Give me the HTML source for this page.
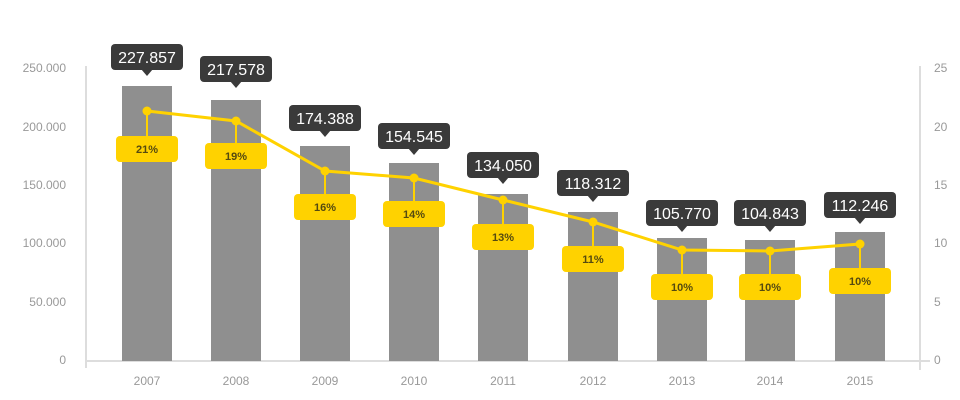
<!DOCTYPE html>
<html><head><meta charset="utf-8"><style>
html,body{margin:0;padding:0;background:#fff;width:960px;height:400px;overflow:hidden}
svg text{font-family:"Liberation Sans",sans-serif}
</style></head><body>
<svg width="960" height="400" xmlns="http://www.w3.org/2000/svg">
<line x1="86" y1="66" x2="86" y2="368" stroke="#ddd" stroke-width="2"/>
<line x1="920" y1="66" x2="920" y2="370" stroke="#ddd" stroke-width="2"/>
<line x1="86" y1="361" x2="930" y2="361" stroke="#ddd" stroke-width="2"/>
<g font-size="12" fill="#999" text-anchor="end">
<text x="66" y="72">250.000</text><text x="66" y="131">200.000</text><text x="66" y="189">150.000</text>
<text x="66" y="247">100.000</text><text x="66" y="306">50.000</text><text x="66" y="364">0</text>
</g>
<g font-size="12" fill="#999">
<text x="934" y="72">25</text><text x="934" y="131">20</text><text x="934" y="189">15</text>
<text x="934" y="247">10</text><text x="934" y="306">5</text><text x="934" y="364">0</text>
</g>
<g fill="#8f8f8f">
<rect x="122" y="86" width="50" height="275"/>
<rect x="211" y="100" width="50" height="261"/>
<rect x="300" y="146" width="50" height="215"/>
<rect x="389" y="163" width="50" height="198"/>
<rect x="478" y="194" width="50" height="167"/>
<rect x="568" y="212" width="50" height="149"/>
<rect x="657" y="238" width="50" height="123"/>
<rect x="745" y="240" width="50" height="121"/>
<rect x="835" y="232" width="50" height="129"/>
</g>
<g font-size="12" fill="#999" text-anchor="middle">
<text x="147" y="385">2007</text><text x="236" y="385">2008</text><text x="325" y="385">2009</text>
<text x="414" y="385">2010</text><text x="503" y="385">2011</text><text x="593" y="385">2012</text>
<text x="682" y="385">2013</text><text x="770" y="385">2014</text><text x="860" y="385">2015</text>
</g>
<polyline points="147,111 236,121 325,171 414,178 503,200 593,222 682,250 770,251 860,244" fill="none" stroke="#ffd200" stroke-width="3"/>
<g stroke="#ffd200" stroke-width="2">
<line x1="147" y1="111" x2="147" y2="149"/><line x1="236" y1="121" x2="236" y2="156"/>
<line x1="325" y1="171" x2="325" y2="207"/><line x1="414" y1="178" x2="414" y2="214"/>
<line x1="503" y1="200" x2="503" y2="237"/><line x1="593" y1="222" x2="593" y2="259"/>
<line x1="682" y1="250" x2="682" y2="287"/><line x1="770" y1="251" x2="770" y2="287"/>
<line x1="860" y1="244" x2="860" y2="281"/>
</g>
<g fill="#ffd200">
<circle cx="147" cy="111" r="4.5"/><circle cx="236" cy="121" r="4.5"/><circle cx="325" cy="171" r="4.5"/>
<circle cx="414" cy="178" r="4.5"/><circle cx="503" cy="200" r="4.5"/><circle cx="593" cy="222" r="4.5"/>
<circle cx="682" cy="250" r="4.5"/><circle cx="770" cy="251" r="4.5"/><circle cx="860" cy="244" r="4.5"/>
<rect x="116" y="136" width="62" height="26" rx="4"/><rect x="205" y="143" width="62" height="26" rx="4"/>
<rect x="294" y="194" width="62" height="26" rx="4"/><rect x="383" y="201" width="62" height="26" rx="4"/>
<rect x="472" y="224" width="62" height="26" rx="4"/><rect x="562" y="246" width="62" height="26" rx="4"/>
<rect x="651" y="274" width="62" height="26" rx="4"/><rect x="739" y="274" width="62" height="26" rx="4"/>
<rect x="829" y="268" width="62" height="26" rx="4"/>
</g>
<g font-size="11" font-weight="bold" fill="#554a10" text-anchor="middle">
<text x="147" y="153">21%</text><text x="236" y="160">19%</text><text x="325" y="211">16%</text>
<text x="414" y="218">14%</text><text x="503" y="241">13%</text><text x="593" y="263">11%</text>
<text x="682" y="291">10%</text><text x="770" y="291">10%</text><text x="860" y="285">10%</text>
</g>
<g fill="#3a3a3a">
<rect x="111" y="44" width="72" height="26" rx="4"/><polygon points="141,69 153,69 147,76"/>
<rect x="200" y="56" width="72" height="26" rx="4"/><polygon points="230,81 242,81 236,88"/>
<rect x="289" y="105" width="72" height="26" rx="4"/><polygon points="319,130 331,130 325,137"/>
<rect x="378" y="123" width="72" height="26" rx="4"/><polygon points="408,148 420,148 414,155"/>
<rect x="467" y="152" width="72" height="26" rx="4"/><polygon points="497,177 509,177 503,184"/>
<rect x="557" y="170" width="72" height="26" rx="4"/><polygon points="587,195 599,195 593,202"/>
<rect x="646" y="200" width="72" height="26" rx="4"/><polygon points="676,225 688,225 682,232"/>
<rect x="734" y="200" width="72" height="26" rx="4"/><polygon points="764,225 776,225 770,232"/>
<rect x="824" y="192" width="72" height="26" rx="4"/><polygon points="854,217 866,217 860,224"/>
</g>
<g font-size="16" fill="#fff" text-anchor="middle">
<text x="147" y="63">227.857</text><text x="236" y="75">217.578</text><text x="325" y="124">174.388</text>
<text x="414" y="142">154.545</text><text x="503" y="171">134.050</text><text x="593" y="189">118.312</text>
<text x="682" y="219">105.770</text><text x="770" y="219">104.843</text><text x="860" y="211">112.246</text>
</g>
</svg>
</body></html>
